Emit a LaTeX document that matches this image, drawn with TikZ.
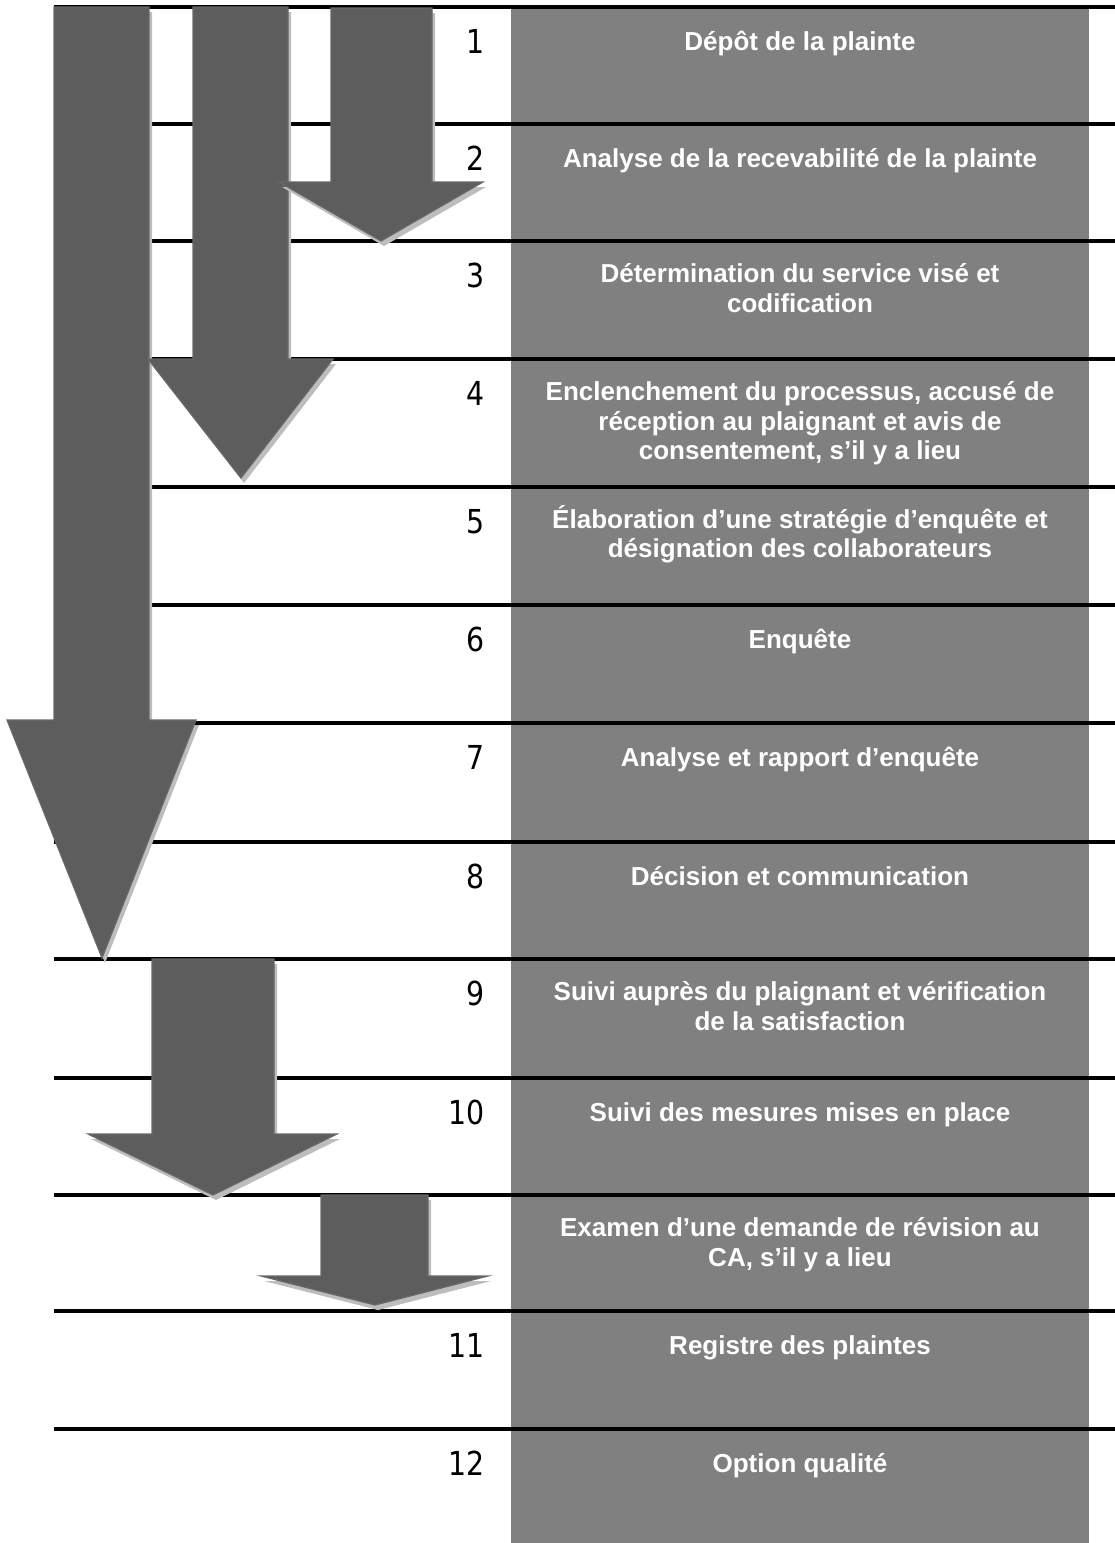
\documentclass[tikz,border=0pt]{standalone}
\usepackage{fontspec}
\setmainfont{Liberation Sans}
\newfontfamily\numfont[FakeStretch=0.86]{DejaVu Sans}
\definecolor{columngray}{HTML}{808080}
\definecolor{arrowfill}{HTML}{5D5D5D}
\definecolor{arrowedge}{HTML}{686868}
\definecolor{shadowgray}{HTML}{BDBDBD}
\newcommand{\dnarrow}[8]{%
  \fill[arrowshadow,shift={(3,5)}] (#1,#3) -- (#2,#3) -- (#2,#4) -- (#6,#4) -- (#7,#8) -- (#5,#4) -- (#1,#4) -- cycle;
  \filldraw[arrowbody] (#1,#3) -- (#2,#3) -- (#2,#4) -- (#6,#4) -- (#7,#8) -- (#5,#4) -- (#1,#4) -- cycle;}
\begin{document}
\begin{tikzpicture}[x=1pt,y=-1pt,
    stepline/.style={line width=3.3pt},
    steptitle/.style={anchor=north,align=center,inner sep=0pt,text=white,font=\fontsize{26}{29.5}\selectfont\bfseries,execute at begin node=\strut},
    stepnum/.style={anchor=base east,inner sep=0pt,font=\numfont\fontsize{33}{36}\selectfont},
    arrowbody/.style={fill=arrowfill,draw=arrowedge,line width=1.2pt},
    arrowshadow/.style={fill=shadowgray}]
        \useasboundingbox (0,0) rectangle (1115,1543);
        \fill[columngray] (511,8) rectangle (1089,1543);

        \foreach \y in {7,124,241,359,487,605,723,842,959,1078,1195,1311,1429}
            \draw[stepline] (54,\y) -- (1115,\y);

        \node[stepnum] at (485,53) (num1) {1};
        \node[stepnum] at (485,170) (num2) {2};
        \node[stepnum] at (485,287) (num3) {3};
        \node[stepnum] at (485,405) (num4) {4};
        \node[stepnum] at (485,533) (num5) {5};
        \node[stepnum] at (485,651) (num6) {6};
        \node[stepnum] at (485,769) (num7) {7};
        \node[stepnum] at (485,888) (num8) {8};
        \node[stepnum] at (485,1005) (num9) {9};
        \node[stepnum] at (485,1124) (num10) {10};
        \node[stepnum] at (485,1357) (num11) {11};
        \node[stepnum] at (485,1475) (num12) {12};

        \node[steptitle] at (800,29.4) (depot) {Dépôt de la plainte};
        \node[steptitle] at (800,146.4) (analyse) {Analyse de la recevabilité de la plainte};
        \node[steptitle] at (800,263.4) (service) {Détermination du service visé et\\codification};
        \node[steptitle] at (800,381.4) (processus) {Enclenchement du processus, accusé de\\réception au plaignant et avis de\\consentement, s’il y a lieu};
        \node[steptitle] at (800,505.2) (strategie) {Élaboration d’une stratégie d’enquête et\\désignation des collaborateurs};
        \node[steptitle] at (800,627.4) (enquete) {Enquête};
        \node[steptitle] at (800,745.4) (rapport) {Analyse et rapport d’enquête};
        \node[steptitle] at (800,864.4) (decision) {Décision et communication};
        \node[steptitle] at (800,981.4) (suivi) {Suivi auprès du plaignant et vérification\\de la satisfaction};
        \node[steptitle] at (800,1100.4) (mesures) {Suivi des mesures mises en place};
        \node[steptitle] at (800,1217.4) (revision) {Examen d’une demande de révision au\\CA, s’il y a lieu};
        \node[steptitle] at (800,1333.4) (registre) {Registre des plaintes};
        \node[steptitle] at (800,1451.4) (qualite) {Option qualité};

        \dnarrow{54}{149}{7}{720}{7}{196}{102}{958}
        \dnarrow{193}{288}{7}{359}{148}{333}{241}{478}
        \dnarrow{331}{432}{8}{182}{279}{483}{381}{241}
        \dnarrow{152}{274}{959}{1134}{88}{337}{213}{1195}
        \dnarrow{321}{428}{1195}{1276}{261}{488}{375}{1305}
\end{tikzpicture}
\end{document}
